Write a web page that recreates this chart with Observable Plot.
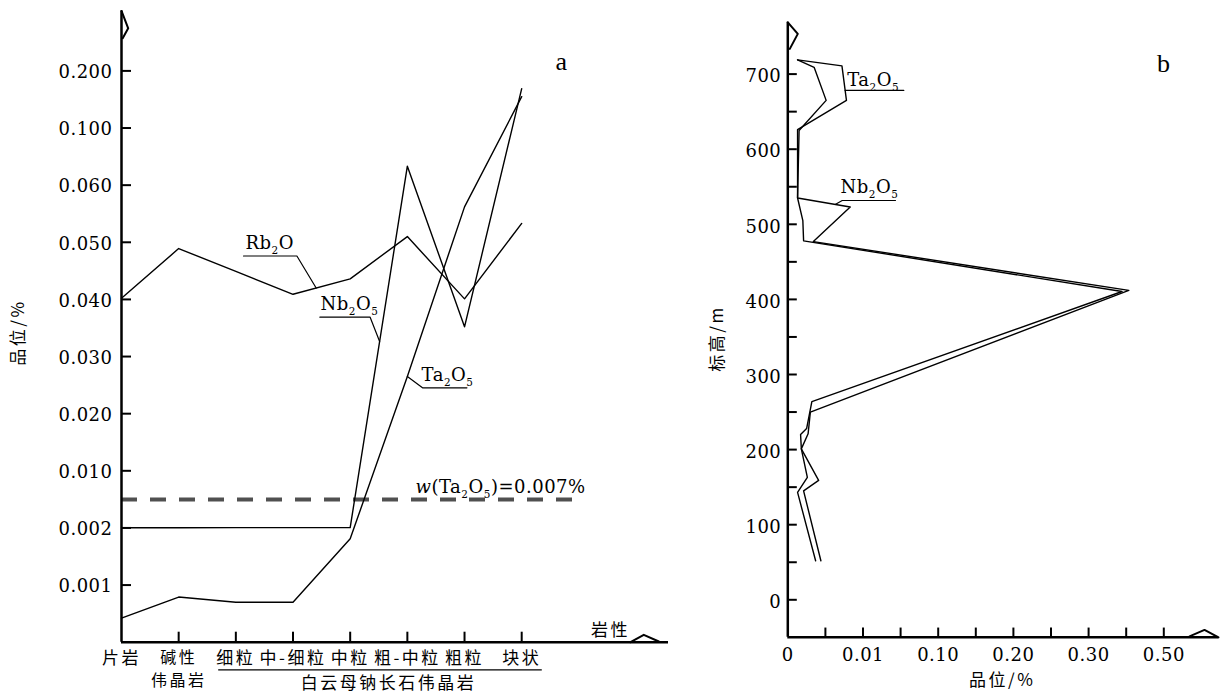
<!DOCTYPE html>
<html><head><meta charset="utf-8">
<script src="https://cdn.jsdelivr.net/npm/d3@7"></script>
<script src="https://cdn.jsdelivr.net/npm/@observablehq/plot@0.6"></script>
<style>
html,body{margin:0;padding:0;background:#fff;}
#wrap{position:relative;width:1221px;height:693px;overflow:hidden;background:#fff;}
#wrap svg{position:absolute;left:0;top:0;}
#wrap text{letter-spacing:0.5px;}
#wrap g[font-family*="Noto"] text{letter-spacing:2.5px;}
</style></head><body><div id="wrap"></div>
<script>
// ================= Panel a : grade by lithology =================
const aCategories = ["片岩","碱性伟晶岩","细粒","中-细粒","中粒","粗-中粒","粗粒","块状"];
const aCatLabels  = ["片岩","碱性\n伟晶岩","细粒","中-细粒","中粒","粗-中粒","粗粒","块状"];
const aGroupLabel = "白云母钠长石伟晶岩";
const aRb2O  = [0.0402, 0.0489, 0.0449, 0.0409, 0.0436, 0.0510, 0.0401, 0.0533];
const aNb2O5 = [0.00202, 0.00203, 0.00204, 0.00204, 0.00205, 0.0733, 0.0352, 0.169];
const aTa2O5 = [0.00042, 0.00079, 0.00070, 0.00070, 0.00181, 0.0265, 0.0562, 0.155];
const aYBreaks = [0, 0.001, 0.002, 0.010, 0.020, 0.030, 0.040, 0.050, 0.060, 0.100, 0.200];
const aYTickLabels = ["0.001","0.002","0.010","0.020","0.030","0.040","0.050","0.060","0.100","0.200"];
const aThresholdDrawn = 0.006;              // where the dashed line sits on this scale
const aThresholdLabel = "*w*(Ta_2O_5)=0.007%";
const aYTitle = "品位/%";
const aXTitle = "岩性";

// ================= Panel b : grade vs elevation =================
const bTaElev  = [719, 711, 665, 626, 535, 505, 478, 410.5, 264, 228, 220, 201, 163, 143, 52];
const bTaGrade = [0.0013, 0.0072, 0.0078, 0.0013, 0.0013, 0.0020, 0.0021, 0.389, 0.0032, 0.0025, 0.0017, 0.0018, 0.0026, 0.0013, 0.0037];
const bNbElev  = [719, 709, 665, 625, 535, 523, 477, 412, 250, 221, 201, 159, 145, 52];
const bNbGrade = [0.0013, 0.0035, 0.0051, 0.0015, 0.0013, 0.0083, 0.0034, 0.407, 0.0030, 0.0027, 0.0018, 0.0041, 0.0021, 0.0044];
const bXBreaks = [0, 0.005, 0.01, 0.055, 0.10, 0.15, 0.20, 0.25, 0.30, 0.40, 0.50];
const bXTickLabels = ["0","","0.01","","0.10","","0.20","","0.30","","0.50"];
const bYTicks = d3.range(0, 701, 50);
const bYTickLabels = d3.range(0, 701, 100);
const bXTitle = "品位/%";
const bYTitle = "标高/m";

// ================= layout / style =================
const W = 1221, H = 693;
const SERIF = "DejaVu Serif, Liberation Serif, serif";
const SERIF2 = "Liberation Serif, serif";
const CJK = "Noto Sans CJK SC, sans-serif";
const FS = 18;
const A = {xr:[121, 521.2], yr:[641.7, 70.4]};            // pixel ranges panel a
const B = {xr:[787.3, 1163.3], yr:[599.3, 73.6]};         // pixel ranges panel b
const aUX = 7 / (A.xr[1]-A.xr[0]), aUY = 10 / (A.yr[0]-A.yr[1]);
const bUX = 10 / (B.xr[1]-B.xr[0]), bUY = 700 / (B.yr[0]-B.yr[1]);
const aYTop = 11.05, aXEnd = (668 - A.xr[0]) * aUX;
const bYBottom = -50, bYTop = 769, bXEnd = (1218 - B.xr[0]) * bUX;

const aIdx = d3.scaleLinear(aYBreaks, d3.range(aYBreaks.length));
const bIdx = d3.scaleLinear(bXBreaks, d3.range(bXBreaks.length));

// ---------- panel a ----------
const aSeries = [["Rb2O", aRb2O], ["Nb2O5", aNb2O5], ["Ta2O5", aTa2O5]];
const aRows = aSeries.flatMap(([s, vals]) => vals.map((v, i) => ({s, i, v})));
function aPoint(vals, seg, t) {
  const y0 = aIdx(vals[seg]), y1 = aIdx(vals[seg+1]);
  return [seg + t, y0 + t*(y1-y0)];
}
const aLabels = [
  {text:"Rb_2O",   tx:2.169, ty:6.979, u:[2.134,3.068], uy:6.760, from:"end",   vals:aRb2O,  seg:3, t:0.405},
  {text:"Nb_2O_5", tx:3.481, ty:5.923, u:[3.470,4.349], uy:5.689, from:"end",   vals:aNb2O5, seg:4, t:0.515},
  {text:"Ta_2O_5", tx:5.248, ty:4.681, u:[5.265,6.042], uy:4.453, from:"start", vals:aTa2O5, seg:4, t:1}
];
const aLeaderMarks = aLabels.map(L => {
  const p = aPoint(L.vals, L.seg, L.t);
  const path = L.from === "end" ? [[L.u[0],L.uy],[L.u[1],L.uy],p] : [p,[L.u[0],L.uy],[L.u[1],L.uy]];
  return Plot.line(path, {x: d=>d[0], y: d=>d[1], stroke:"black", strokeWidth:1.2});
});
const aFlag = [[0,0],[6.7,17.4],[1.2,27.4]].map(([dx,dy]) => [dx*aUX, aYTop - dy*aUY]);
const aTri = [[-38,0],[-24.7,7.4],[-9.7,0.7]].map(([dx,dy]) => [aXEnd + dx*aUX, dy*aUY]);
const aCatSingle = aCatLabels.map((s,i)=>({i, s})).filter(d => !d.s.includes("\n"));
const aCatMulti  = aCatLabels.map((s,i)=>({i, s})).filter(d => d.s.includes("\n"));

const plotA = Plot.plot({
  width: W, height: H, margin: 0,
  style: {background:"transparent", fontFamily: SERIF, overflow:"visible"},
  x: {type:"linear", domain:[0,7], range:A.xr, axis:null},
  y: {type:"linear", domain:[0,10], range:A.yr, axis:null},
  marks: [
    Plot.ruleY([aIdx(aThresholdDrawn)], {x1:0, x2:7.94, stroke:"#505050", strokeWidth:4, strokeDasharray:"16,13"}),
    Plot.line(aRows, {x:"i", y:d=>aIdx(d.v), z:"s", stroke:"black", strokeWidth:1.4}),
    Plot.ruleX([0], {y1:0, y2:aYTop, stroke:"black", strokeWidth:2.5}),
    Plot.ruleY([0], {x1:0, x2:aXEnd, stroke:"black", strokeWidth:2.5}),
    Plot.ruleY(d3.range(1, aYBreaks.length), {x1:0, x2:10*aUX, stroke:"black", strokeWidth:2}),
    Plot.ruleX(d3.range(1, aCategories.length), {y1:0, y2:10*aUY, stroke:"black", strokeWidth:2}),
    Plot.line(aFlag, {x:d=>d[0], y:d=>d[1], stroke:"black", strokeWidth:2}),
    Plot.line(aTri, {x:d=>d[0], y:d=>d[1], stroke:"black", strokeWidth:2}),
    Plot.text(d3.range(1, aYBreaks.length), {x:0, y:d=>d, text:d=>aYTickLabels[d-1], textAnchor:"end", dx:-9, dy:1.5, fontSize:FS, fill:"black"}),
    Plot.text(aCatSingle, {x:"i", y:0, text:"s", dy:16.6, fontFamily:CJK, fontSize:17, fill:"black"}),
    Plot.text(aCatMulti, {x:"i", y:0, text:"s", dy:25, lineHeight:1.45, fontFamily:CJK, fontSize:16, fill:"black"}),
    Plot.ruleY([0], {x1:1.70, x2:7.36, dy:27.6, stroke:"black", strokeWidth:1.3}),
    Plot.text([aGroupLabel], {x:4.67, y:0, text:d=>d, dy:41.6, fontFamily:CJK, fontSize:17, fill:"black"}),
    Plot.text([aXTitle], {x:8.554, y:0, text:d=>d, dy:-11.7, fontFamily:CJK, fontSize:17, fill:"black"}),
    Plot.text([aYTitle], {x:-1.80, y:5.42, text:d=>d, rotate:-90, fontFamily:CJK, fontSize:17, fill:"black"}),
    Plot.text(["a"], {x:7.697, y:10.165, text:d=>d, fontFamily:SERIF2, fontSize:26, fill:"black"}),
    Plot.text([aThresholdLabel], {x:5.143, y:2.708, text:d=>d, textAnchor:"start", fontSize:FS, fill:"black"}),
    Plot.text(aLabels, {x:"tx", y:"ty", text:"text", textAnchor:"start", fontSize:FS, fill:"black"}),
    ...aLeaderMarks
  ]
});

// ---------- panel b ----------
const bRows = [
  ...bTaElev.map((e,i)=>({s:"Ta2O5", e, g:bTaGrade[i]})),
  ...bNbElev.map((e,i)=>({s:"Nb2O5", e, g:bNbGrade[i]}))
];
function bPoint(elev, grade, seg, t) {
  const x0 = bIdx(grade[seg]), x1 = bIdx(grade[seg+1]);
  return [x0 + t*(x1-x0), elev[seg] + t*(elev[seg+1]-elev[seg])];
}
const bTaU = bPoint(bTaElev, bTaGrade, 1, 0.713);
const bNbP = bPoint(bNbElev, bNbGrade, 4, 0.715);
const bLabels = [
  {text:"Ta_2O_5", tx:1.580, ty:691.5},
  {text:"Nb_2O_5", tx:1.402, ty:549}
];
const bLeaders = [
  [bTaU, [3.085, bTaU[1]]],
  [bNbP, [1.447, 531.7], [2.864, 531.7]]
];
const bFlag = [[0,0],[10,11.6],[2,26.6]].map(([dx,dy]) => [dx*bUX, bYTop - dy*bUY]);
const bTri = [[-29,0.9],[-14,7.4],[0,0]].map(([dx,dy]) => [bXEnd + dx*bUX, bYBottom + dy*bUY]);

const plotB = Plot.plot({
  width: W, height: H, margin: 0,
  style: {background:"transparent", fontFamily: SERIF, overflow:"visible"},
  x: {type:"linear", domain:[0,10], range:B.xr, axis:null},
  y: {type:"linear", domain:[0,700], range:B.yr, axis:null},
  marks: [
    Plot.line(bRows, {x:d=>bIdx(d.g), y:"e", z:"s", stroke:"black", strokeWidth:1.4}),
    Plot.ruleX([0], {y1:bYBottom, y2:bYTop, stroke:"black", strokeWidth:2.5}),
    Plot.ruleY([bYBottom], {x1:0, x2:bXEnd, stroke:"black", strokeWidth:2.5}),
    Plot.ruleY(bYTicks, {x1:0, x2:9.5*bUX, stroke:"black", strokeWidth:2}),
    Plot.ruleX(d3.range(1, bXBreaks.length), {y1:bYBottom, y2:bYBottom + 9.3*bUY, stroke:"black", strokeWidth:2}),
    Plot.line(bFlag, {x:d=>d[0], y:d=>d[1], stroke:"black", strokeWidth:2}),
    Plot.line(bTri, {x:d=>d[0], y:d=>d[1], stroke:"black", strokeWidth:2}),
    Plot.text(bYTickLabels, {x:0, y:d=>d, text:d=>String(d), textAnchor:"end", dx:-6.5, dy:2.5, fontSize:FS, fill:"black"}),
    Plot.text(d3.range(0, bXBreaks.length).filter(i=>bXTickLabels[i]), {x:d=>d, y:bYBottom, text:d=>bXTickLabels[d], dy:18.3, fontSize:FS, fill:"black"}),
    Plot.text([bXTitle], {x:5.702, y:bYBottom, text:d=>d, dy:43.3, fontFamily:CJK, fontSize:17, fill:"black"}),
    Plot.text([bYTitle], {x:-1.863, y:347.9, text:d=>d, rotate:-90, fontFamily:CJK, fontSize:17, fill:"black"}),
    Plot.text(["b"], {x:10.0, y:713.7, text:d=>d, fontFamily:SERIF2, fontSize:26, fill:"black"}),
    Plot.text(bLabels, {x:"tx", y:"ty", text:"text", textAnchor:"start", fontSize:FS, fill:"black"}),
    ...bLeaders.map(p => Plot.line(p, {x:d=>d[0], y:d=>d[1], stroke:"black", strokeWidth:1.2}))
  ]
});

// ---------- rich text: _x subscripts, *italic* ----------
function richify(svg) {
  svg.querySelectorAll("text").forEach(t => {
    if (t.querySelector("tspan")) return;
    const s = t.textContent;
    if (!/[_*]/.test(s)) return;
    const g = t.closest("[font-size]");
    const fs = g ? parseFloat(g.getAttribute("font-size")) : FS;
    while (t.firstChild) t.removeChild(t.firstChild);
    const NS = "http://www.w3.org/2000/svg";
    let italic = false, shifted = false, i = 0;
    const add = (str, sub) => {
      const ts = document.createElementNS(NS, "tspan");
      ts.textContent = str;
      if (italic) ts.setAttribute("font-style", "italic");
      if (sub) { ts.setAttribute("font-size", fs*0.58); if (!shifted) { ts.setAttribute("dy", fs*0.28); shifted = true; } }
      else if (shifted) { ts.setAttribute("dy", -fs*0.28); shifted = false; }
      t.appendChild(ts);
    };
    while (i < s.length) {
      const c = s[i];
      if (c === "*") { italic = !italic; i++; continue; }
      if (c === "_") { add(s[i+1], true); i += 2; continue; }
      let j = i; while (j < s.length && s[j] !== "_" && s[j] !== "*") j++;
      add(s.slice(i, j), false); i = j;
    }
  });
}
const wrap = document.getElementById("wrap");
wrap.appendChild(plotA);
wrap.appendChild(plotB);
richify(plotA); richify(plotB);
</script>
</body></html>
